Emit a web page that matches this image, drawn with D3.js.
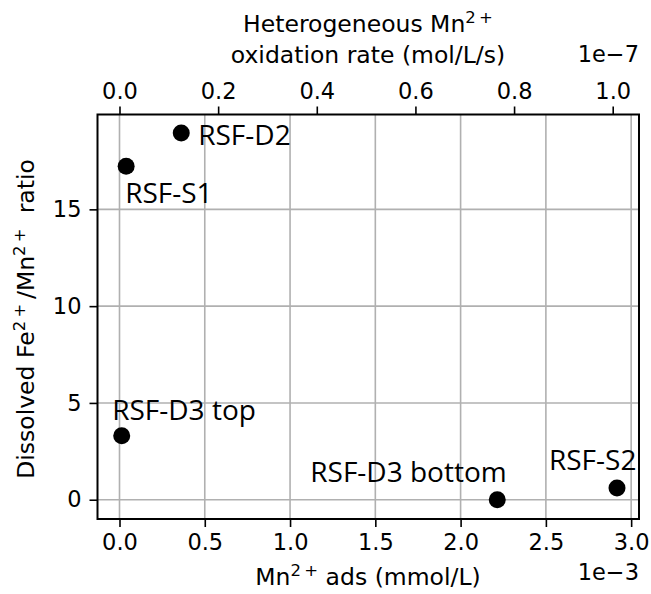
<!DOCTYPE html>
<html>
<head>
<meta charset="utf-8">
<script src="https://cdn.jsdelivr.net/npm/d3@7"></script>
<style>
body { margin: 0; background: #fff; }
text { font-family: "DejaVu Sans", sans-serif; fill: #000; white-space: pre; }
.lbl { font-family: "Open Sans", sans-serif; }
</style>
</head>
<body>
<svg id="chart" width="651" height="594"></svg>
<script>
// sample names and values
var names = ["RSF-S1", "RSF-D2", "RSF-D3 top", "RSF-D3 bottom", "RSF-S2"];
var mnAds = [0.039, 0.362, 0.013, 2.215, 2.917];   // x 1e-3 mmol/L
var ratio = [17.23, 18.95, 3.30, 0.0, 0.60];
var xTicks = [0, 0.5, 1.0, 1.5, 2.0, 2.5, 3.0];
var topTicks = [0, 0.2, 0.4, 0.6, 0.8, 1.0];        // x 1e-7 mol/L/s
var yTicks = [0, 5, 10, 15];
// label offsets (dx, dy) relative to point
var lblOff = [[-1, 37], [17, 12], [-9.5, -16], [-187, -18], [-68, -18]];

var svg = d3.select("#chart");
var L = 97.5, R = 639, T = 114.5, B = 519;
var FS = "22.5px", AFS = "23.5px", SUP = "16.5px";

var x = d3.scaleLinear().domain([-0.129, 3.046]).range([L, R]);
var xTop = d3.scaleLinear().domain([-0.0446, 1.0533]).range([L, R]);
var y = d3.scaleLinear().domain([-0.996, 19.9]).range([B, T]);

// grid
var g = svg.append("g");
g.selectAll(".vg").data(xTicks).enter().append("line")
    .attr("x1", d => x(d)).attr("x2", d => x(d))
    .attr("y1", T).attr("y2", B)
    .style("stroke", "#b0b0b0").style("stroke-width", 1.6);
g.selectAll(".hg").data(yTicks).enter().append("line")
    .attr("x1", L).attr("x2", R)
    .attr("y1", d => y(d)).attr("y2", d => y(d))
    .style("stroke", "#b0b0b0").style("stroke-width", 1.6);

// axes
function style(a) {
    a.select(".domain").remove();
    a.selectAll(".tick line").style("stroke", "#000").style("stroke-width", 1.6);
    a.selectAll(".tick text").style("font-size", FS).style("font-family", "DejaVu Sans");
}
svg.append("g").attr("transform", "translate(0," + B + ")")
    .call(d3.axisBottom(x).tickValues(xTicks).tickFormat(d3.format(".1f")).tickSize(8).tickPadding(7))
    .call(style);
svg.append("g").attr("transform", "translate(0," + T + ")")
    .call(d3.axisTop(xTop).tickValues(topTicks).tickFormat(d3.format(".1f")).tickSize(8).tickPadding(8))
    .call(style);
svg.append("g").attr("transform", "translate(" + L + ",0)")
    .call(d3.axisLeft(y).tickValues(yTicks).tickFormat(d3.format("d")).tickSize(8).tickPadding(8))
    .call(style);

// frame
svg.append("rect").attr("x", L).attr("y", T).attr("width", R - L).attr("height", B - T)
    .style("fill", "none").style("stroke", "#000").style("stroke-width", 2);

// points
svg.selectAll(".pt").data(names).enter().append("circle")
    .attr("cx", (d, i) => x(mnAds[i])).attr("cy", (d, i) => y(ratio[i]))
    .attr("r", 8.5).style("fill", "#000");
svg.selectAll(".lbl").data(names).enter().append("text")
    .attr("class", "lbl")
    .attr("x", (d, i) => x(mnAds[i]) + lblOff[i][0])
    .attr("y", (d, i) => y(ratio[i]) + lblOff[i][1])
    .style("font-size", "28px")
    .text(d => d);

// axis titles
function sup(t) {
    t.append("tspan").attr("dy", -9).style("font-size", SUP).text("2\u2009+");
}
var xl = svg.append("text").attr("x", 368).attr("y", 585).attr("text-anchor", "middle").style("font-size", AFS);
xl.append("tspan").text("Mn");
sup(xl);
xl.append("tspan").attr("dy", 9).text(" ads (mmol/L)");
svg.append("text").attr("x", R).attr("y", 580).attr("text-anchor", "end").style("font-size", FS).text("1e\u22123");

var tl = svg.append("text").attr("x", 368).attr("y", 32).attr("text-anchor", "middle").style("font-size", AFS);
tl.append("tspan").text("Heterogeneous Mn");
sup(tl);
svg.append("text").attr("x", 368).attr("y", 63).attr("text-anchor", "middle").style("font-size", AFS)
    .text("oxidation rate (mol/L/s)");
svg.append("text").attr("x", R).attr("y", 62).attr("text-anchor", "end").style("font-size", FS).text("1e\u22127");

var yl = svg.append("text").attr("transform", "translate(34,319) rotate(-90)")
    .attr("text-anchor", "middle").style("font-size", AFS);
yl.append("tspan").text("Dissolved Fe");
sup(yl);
yl.append("tspan").attr("dy", 9).text("\u2009/Mn");
sup(yl);
yl.append("tspan").attr("dy", 9).text("  ratio");
</script>
</body>
</html>
